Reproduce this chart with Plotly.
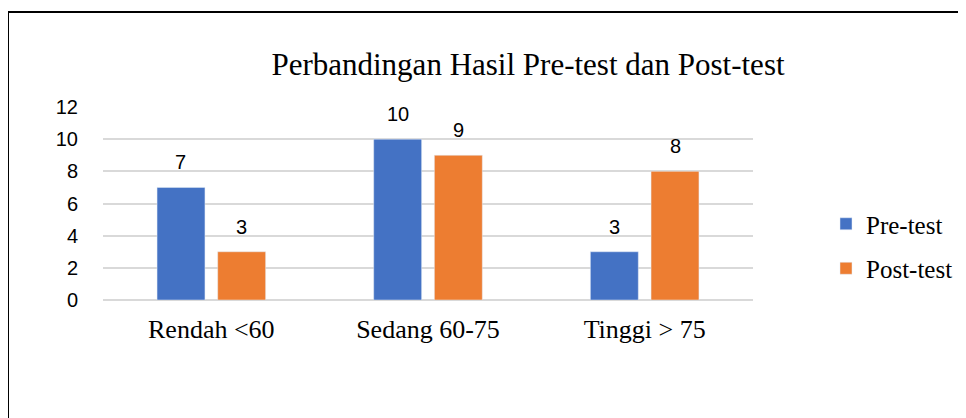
import plotly.graph_objects as go

categories = ["Rendah <60", "Sedang 60-75", "Tinggi > 75"]
pre_test = [7, 10, 3]
post_test = [3, 9, 8]
y_ticks = [0, 2, 4, 6, 8, 10, 12]

# page body has an 8px margin, so figure coordinates = screen - 8
OFF = 8
W, H = 966, 418
L, R, T, B = 103 - OFF, 213 + OFF, 107 - OFF, 118 + OFF
pw, ph = W - L - R, H - T - B
y0_px = H - B  # pixel row of the x axis (figure coords)

blue = "#4472C4"
orange = "#ED7D31"

fig = go.Figure()
fig.add_trace(go.Bar(name="Pre-test", x=categories, y=pre_test, marker_color=blue,
                     legendgroup="a"))
fig.add_trace(go.Bar(name="Post-test", x=categories, y=post_test, marker_color=orange,
                     legendgroup="b"))

annotations = []
slot = pw / 3 * (1 - 0.44) / 2
for vals, shift in ((pre_test, -slot / 2), (post_test, slot / 2)):
    for c, v in zip(categories, vals):
        annotations.append(dict(x=c, y=v, xref="x", yref="y", text=str(v), showarrow=False,
                                xshift=shift, yshift=25, yanchor="middle",
                                font=dict(family="Liberation Sans", size=20, color="#000")))

fig.update_layout(
    width=W, height=H,
    margin=dict(l=L, r=R, t=T, b=B),
    paper_bgcolor="white", plot_bgcolor="white",
    barmode="group", bargap=0.44, bargroupgap=0.21,
    title=dict(text="Perbandingan Hasil Pre-test dan Post-test",
               x=(528 - OFF) / W, y=1 - (64 - OFF) / H,
               xanchor="center", yanchor="middle",
               font=dict(family="Liberation Serif", size=31, color="#000")),
    legend=dict(x=(826 - OFF - L) / pw, y=(y0_px - (246 - OFF)) / ph,
                xanchor="left", yanchor="middle",
                font=dict(family="Liberation Serif", size=25, color="#000"),
                tracegroupgap=9, bgcolor="rgba(0,0,0,0)"),
    annotations=annotations,
    shapes=[dict(type="rect", xref="paper", yref="paper",
                 x0=(8 - OFF - L) / pw, x1=(W + 20 - L) / pw,
                 y0=(y0_px - (H + 20)) / ph, y1=(y0_px - (12 - OFF)) / ph,
                 line=dict(color="#000", width=2), fillcolor="rgba(0,0,0,0)")],
)
fig.update_yaxes(range=[0, 12], tickvals=y_ticks, showgrid=True, gridcolor="#D9D9D9",
                 gridwidth=1.5, zeroline=True, zerolinecolor="#D9D9D9", zerolinewidth=1.5,
                 showline=False, ticks="outside", ticklen=20, tickcolor="rgba(0,0,0,0)",
                 tickfont=dict(family="Liberation Sans", size=20, color="#000"))
fig.update_xaxes(showline=False, showgrid=False, ticks="outside", ticklen=6,
                 tickcolor="rgba(0,0,0,0)",
                 tickfont=dict(family="Liberation Serif", size=26, color="#000"))

fig.write_html("out.html")
